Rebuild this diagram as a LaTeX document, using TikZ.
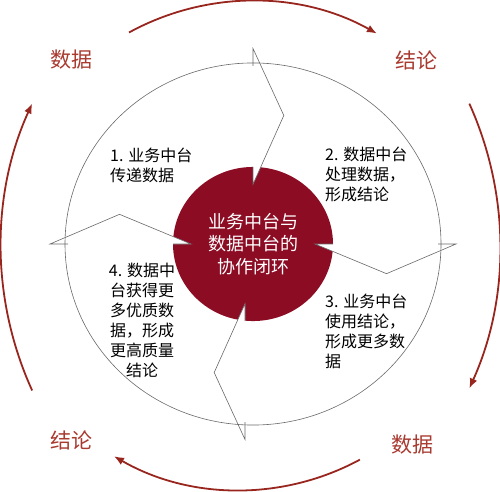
\documentclass[tikz,border=0pt]{standalone}
\usepackage{fontspec}
\setmainfont{Noto Sans CJK SC}
\usepackage{tikz}
\usetikzlibrary{arrows.meta}
\definecolor{loopred}{RGB}{140,12,36}
\definecolor{arrowred}{RGB}{152,38,30}
\definecolor{labelred}{RGB}{168,58,48}
\definecolor{rimgrey}{RGB}{105,105,105}

\begin{document}
\begin{tikzpicture}[x=1pt, y=1pt,
        rim/.style={rimgrey, line width=0.6pt},
        cyclearrow/.style={arrowred, line width=1.8pt, -{Latex[length=10pt,width=8pt]}},
        steptext/.style={font=\fontsize{16}{20}\selectfont, inner sep=0pt},
        sidelabel/.style={labelred, font=\fontsize{21}{24}\selectfont, inner sep=0pt}]
    \useasboundingbox (0,0) rectangle (500,491);
    \coordinate (c) at (253,247);
    % ring of four pieces
    \begin{scope}[shift={(c)}, yscale=0.963]
        \fill[loopred] (0,0) circle (80);
        \foreach \b/\dx in {90/0, 0/0, 270/-8, 180/0} {
            \fill[white, xshift=\dx] (\b:62) -- ({\b-13}:137) -- (\b:203) -- cycle;
        }
        \draw[rim] (0,0) circle (188);
        \foreach \b/\dx in {90/0, 0/0, 270/-8, 180/0} {
            \draw[rim, xshift=\dx] (\b:185) -- (\b:203) -- ({\b-13}:137) -- (\b:62) -- (\b:80);
        }
    \end{scope}
    % outer arrows
    \foreach \cx/\cy/\r/\a/\e in {252/234/256/118.7/60.8, 154/245/346/24.3/-24.3,
                                  240/253/252/-61.6/-120, 347/244/346/204.5/155.5} {
        \draw[cyclearrow] (\cx,\cy) ++(\a:\r) arc[start angle=\a, end angle=\e, radius=\r];
    }
    \node[white, font=\fontsize{18}{22.5}\selectfont, align=center, inner sep=0pt] (hub) at (c) {业务中台与\\数据中台的\\协作闭环};
    \node[steptext, anchor=west, align=left] (s1) at (110,326) {1. 业务中台\\传递数据};
    \node[steptext, anchor=west, align=left] (s2) at (325,317) {2. 数据中台\\处理数据，\\形成结论};
    \node[steptext, anchor=west, align=left] (s3) at (325,160) {3. 业务中台\\使用结论，\\形成更多数\\据};
    \node[steptext, align=center] (s4) at (142,171) {4. 数据中\\台获得更\\多优质数\\据，形成\\更高质量\\结论};
    \node[sidelabel] (d1) at (71,431) {数据};
    \node[sidelabel] (r1) at (416,431) {结论};
    \node[sidelabel] (d2) at (412,46) {数据};
    \node[sidelabel] (r2) at (71,51) {结论};
\end{tikzpicture}
\end{document}
